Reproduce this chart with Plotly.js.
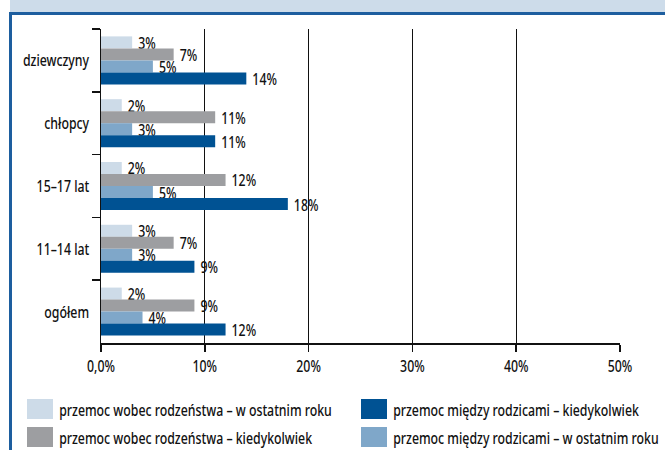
<!DOCTYPE html>
<html>
<head>
<meta charset="utf-8">
<script src="https://cdn.plot.ly/plotly-3.0.1.min.js"></script>
<style>
  html, body { margin: 0; padding: 0; background: #ffffff; }
  #wrap { position: relative; width: 665px; height: 450px; overflow: hidden; }
  #band { position: absolute; left: 10px; top: 0; width: 655px; height: 12px; background: #cddcea; }
  #bandline { position: absolute; left: 10px; top: 12px; width: 655px; height: 3px; background: #1d5e9f; }
  #leftline { position: absolute; left: 9px; top: 12px; width: 3px; height: 438px; background: #1d5e9f; }
  #chart { position: absolute; left: 0; top: 0; width: 665px; height: 450px; }
</style>
</head>
<body>
<div id="wrap">
  <div id="band"></div>
  <div id="bandline"></div>
  <div id="leftline"></div>
  <div id="chart"></div>
</div>
<script>
// Groups, listed top to bottom
const categories = ['dziewczyny', 'chłopcy', '15–17 lat', '11–14 lat', 'ogółem'];

// Series names
const seriesNames = [
  'przemoc wobec rodzeństwa – w ostatnim roku',
  'przemoc wobec rodzeństwa – kiedykolwiek',
  'przemoc między rodzicami – w ostatnim roku',
  'przemoc między rodzicami – kiedykolwiek'
];

// Values in percent, one array per series (same order as categories)
const siblingsLastYear = [3, 2, 2, 3, 2];
const siblingsEver     = [7, 11, 12, 7, 9];
const parentsLastYear  = [5, 3, 5, 3, 4];
const parentsEver      = [14, 11, 18, 9, 12];

const seriesColors = ['#cddbe8', '#9d9ea1', '#7fa7c9', '#005293'];

// x axis ticks
const tickValues = [0, 10, 20, 30, 40, 50];
const tickLabels = ['0,0%', '10%', '20%', '30%', '40%', '50%'];

// Legend layout: first column, then second column
const legendOrder = [0, 1, 3, 2];

const FONT = '"Noto Sans", "Liberation Sans", sans-serif';
const WEIGHT = 500;
const NARROW = 0.725;   // horizontal squeeze giving a condensed face
const BAR_TEXT_GAP = 3; // extra room between a bar end and its label

const seriesValues = [siblingsLastYear, siblingsEver, parentsLastYear, parentsEver];

const traces = seriesValues.map((vals, i) => ({
  type: 'bar',
  orientation: 'h',
  name: seriesNames[i],
  y: categories,
  x: vals,
  marker: { color: seriesColors[i], line: { width: 0 } },
  text: vals.map(v => v + '%'),
  textposition: 'outside',
  constraintext: 'none',
  cliponaxis: false,
  textfont: { family: FONT, size: 17, color: '#111111', weight: WEIGHT },
  hoverinfo: 'skip',
  showlegend: false
}));

// Legend built from shapes + annotations (two columns, two rows)
const plotL = 101, plotR = 620, plotT = 29, plotB = 343;
const pw = plotR - plotL, ph = plotB - plotT;
const px2x = px => (px - plotL) / pw;
const py2y = py => (plotB - py) / ph;

const legendCols = [27, 361];
const legendRows = [399, 427];
const shapes = [];
const annotations = [];
legendOrder.forEach((si, k) => {
  const col = Math.floor(k / 2), row = k % 2;
  const x0 = legendCols[col], y0 = legendRows[row];
  shapes.push({
    type: 'rect', xref: 'paper', yref: 'paper',
    x0: px2x(x0), x1: px2x(x0 + 26),
    y0: py2y(y0 + 20), y1: py2y(y0),
    fillcolor: seriesColors[si], line: { width: 0 }
  });
  annotations.push({
    xref: 'paper', yref: 'paper',
    x: px2x(x0 + 30), y: py2y(y0 + 10),
    xanchor: 'left', yanchor: 'middle',
    text: seriesNames[si], showarrow: false,
    font: { family: FONT, size: 17, color: '#111111', weight: WEIGHT }
  });
});

const layout = {
  width: 665,
  height: 450,
  margin: { l: plotL, r: 665 - plotR, t: plotT, b: 450 - plotB },
  paper_bgcolor: 'rgba(0,0,0,0)',
  plot_bgcolor: 'rgba(0,0,0,0)',
  barmode: 'group',
  bargap: 0.235,
  bargroupgap: 0,
  showlegend: false,
  font: { family: FONT, size: 17, color: '#111111', weight: WEIGHT },
  xaxis: {
    range: [0, 50],
    tickvals: tickValues,
    ticktext: tickLabels,
    showgrid: true,
    gridcolor: '#111111',
    gridwidth: 1.2,
    zeroline: false,
    showline: true,
    linecolor: '#111111',
    linewidth: 1.5,
    ticks: 'outside',
    ticklen: 7,
    tickwidth: 1.5,
    tickcolor: '#111111',
    tickfont: { family: FONT, size: 17, color: '#111111', weight: WEIGHT },
    fixedrange: true
  },
  yaxis: {
    type: 'category',
    categoryorder: 'array',
    categoryarray: categories,
    autorange: 'reversed',
    showgrid: false,
    zeroline: false,
    showline: true,
    linecolor: '#111111',
    linewidth: 1.5,
    ticks: 'outside',
    tickson: 'boundaries',
    ticklen: 8,
    tickwidth: 1.5,
    tickcolor: '#111111',
    ticklabelstandoff: 7,
    tickfont: { family: FONT, size: 17, color: '#111111', weight: WEIGHT },
    fixedrange: true
  },
  shapes: shapes,
  annotations: annotations
};

// Squeeze every label horizontally around the point it is aligned on:
// bar labels and legend texts keep their left edge, y labels their
// right edge, x tick labels their centre.
function condenseText(gd) {
  gd.querySelectorAll('svg text').forEach(t => {
    const box = t.getBBox();
    const isLegendText = t.closest('.annotation') !== null;
    const isBarText = !isLegendText && (t.classList.contains('bartext') || t.closest('.bartext') !== null);
    const anchor = getComputedStyle(t).textAnchor || t.getAttribute('text-anchor') || 'start';
    let ax, shift = 0;
    if (isBarText || isLegendText) {
      ax = box.x;
      if (isBarText) shift = BAR_TEXT_GAP;
    } else if (anchor === 'end') {
      ax = box.x + box.width;
    } else if (anchor === 'middle') {
      ax = box.x + box.width / 2;
    } else {
      ax = box.x;
    }
    const tr = t.getAttribute('transform') || '';
    t.setAttribute('transform',
      (tr + ' translate(' + (ax + shift) + ',0) scale(' + NARROW + ',1) translate(' + (-ax) + ',0)').trim());
  });
}

Plotly.newPlot('chart', traces, layout, { displayModeBar: false, staticPlot: true })
  .then(gd => condenseText(gd));
</script>
</body>
</html>
